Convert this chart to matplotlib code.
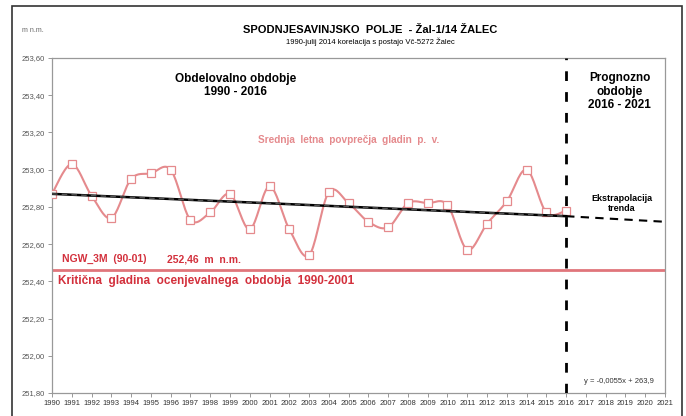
import numpy as np
import matplotlib.pyplot as plt
from matplotlib.patches import Rectangle

plt.rcParams['font.family'] = ['Liberation Sans', 'DejaVu Sans']

## Data

years = np.arange(1990, 2017)
levels = [252.87, 253.03, 252.86, 252.74, 252.95, 252.98, 253.00, 252.73, 252.77,
          252.87, 252.68, 252.91, 252.68, 252.54, 252.88, 252.82, 252.72, 252.69,
          252.82, 252.82, 252.81, 252.57, 252.71, 252.83, 253.00, 252.77, 252.78]
trend_years = [1990, 2016, 2021]
trend_vals = [252.87, 252.75, 252.72]
critical = 252.46
ytick_vals = [251.8, 252.0, 252.2, 252.4, 252.6, 252.8, 253.0, 253.2, 253.4, 253.6]
xtick_vals = list(range(1990, 2022))

red_soft = '#e58a8d'
red_line = '#e0757b'
red_hard = '#d3303c'


def smooth(x, y, sx, sy, n=20):
    # Excel style smoothed line (bezier with 1/6 tangents), done in screen-ish units
    px = np.asarray(x, float) * sx
    py = np.asarray(y, float) * sy
    pts = np.column_stack([px, py])
    out = []
    for i in range(len(pts) - 1):
        p0 = pts[i - 1] if i > 0 else pts[i]
        p1 = pts[i]
        p2 = pts[i + 1]
        p3 = pts[i + 2] if i + 2 < len(pts) else pts[i + 1]
        c1 = p1 + (p2 - p0) / 6
        c2 = p2 - (p3 - p1) / 6
        t = np.linspace(0, 1, n)[:, None]
        seg = ((1 - t) ** 3) * p1 + 3 * ((1 - t) ** 2) * t * c1 + 3 * (1 - t) * t ** 2 * c2 + t ** 3 * p2
        out.append(seg if i == 0 else seg[1:])
    out = np.vstack(out)
    return out[:, 0] / sx, out[:, 1] / sy


fig = plt.figure(figsize=(6.86, 4.16), dpi=100)
ax = fig.add_axes([52 / 686, 1 - 393 / 416, 613 / 686, 335 / 416])

# outer chart frame
fig.patches.append(Rectangle((12 / 686, -0.05), 670 / 686, 1 - 6 / 416 + 0.05,
                             transform=fig.transFigure, fill=False, ec='#333333', lw=1.2))

sx, sy = 613 / 31, 335 / 1.8
xs, ys = smooth(years, levels, sx, sy)
ax.plot(xs, ys, color=red_soft, lw=1.5, zorder=3)
ax.plot(years, levels, ls='none', marker='s', ms=5.5, mfc='white', mec=red_soft, mew=0.9, zorder=4)

# trend and its extrapolation
ax.plot(trend_years[:2], trend_vals[:2], color='black', lw=1.8, zorder=5)
ax.plot(trend_years[:2], trend_vals[:2], color='#555555', lw=1.0, ls=(0, (4, 3)), zorder=6)
ax.plot(trend_years[1:], trend_vals[1:], color='black', lw=1.5, ls=(0, (4, 3)), zorder=5)

ax.axhline(critical, color=red_line, lw=2, zorder=2)
ax.axvline(2016, color='black', lw=2, ls=(0, (3.5, 4)), zorder=6)

ax.set_xlim(1990, 2021)
ax.set_ylim(251.8, 253.6)
ax.set_xticks(xtick_vals)
ax.set_xticklabels([str(v) for v in xtick_vals], fontsize=5.5, color='#333333')
ax.set_yticks(ytick_vals)
ax.set_yticklabels([('%.2f' % v).replace('.', ',') for v in ytick_vals], fontsize=5.5, color='#555555')
ax.tick_params(length=3, width=0.6, color='#888888', pad=2)
for s in ax.spines.values():
    s.set_color('#999999')
    s.set_linewidth(0.9)

## Texts

fig.text(22 / 686, 1 - 31 / 416, 'm n.m.', fontsize=5, color='#666666', va='center')
fig.text(370 / 686, 1 - 30 / 416, 'SPODNJESAVINJSKO  POLJE  - Žal-1/14 ŽALEC',
         fontsize=8, weight='bold', ha='center', va='center')
fig.text(370 / 686, 1 - 42 / 416, '1990-julij 2014 korelacija s postajo Vč-5272 Žalec',
         fontsize=5.5, ha='center', va='center')

ax.text(1999.3, 253.45, 'Obdelovalno obdobje\n1990 - 2016', fontsize=8.5, weight='bold',
        ha='center', va='center', linespacing=1.1)
ax.text(2018.7, 253.42, 'Prognozno\nobdobje\n2016 - 2021', fontsize=8.5, weight='bold',
        ha='center', va='center', linespacing=1.15)
ax.text(2000.4, 253.16, 'Srednja  letna  povprečja  gladin  p.  v.', fontsize=7.2,
        weight='bold', color=red_soft, ha='left', va='center')
ax.text(2018.8, 252.82, 'Ekstrapolacija\ntrenda', fontsize=6.5, weight='bold',
        ha='center', va='center', linespacing=1.1)
ax.text(1990.5, 252.52, 'NGW_3M  (90-01)', fontsize=7.5, weight='bold', color=red_hard,
        ha='left', va='center')
ax.text(1995.8, 252.52, '252,46  m  n.m.', fontsize=7.5, weight='bold', color=red_hard,
        ha='left', va='center')
ax.text(1990.3, 252.40, 'Kritična  gladina  ocenjevalnega  obdobja  1990-2001', fontsize=8.5,
        weight='bold', color=red_hard, ha='left', va='center')
ax.text(2016.9, 251.86, 'y = -0,0055x + 263,9', fontsize=5.5, color='#333333',
        ha='left', va='center')

fig.savefig('out.png', dpi=100)
